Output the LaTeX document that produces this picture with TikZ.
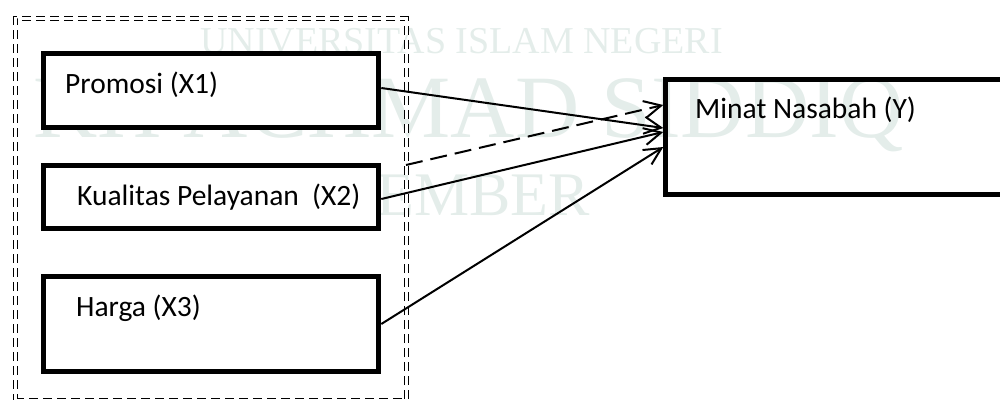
\documentclass[tikz,border=0pt]{standalone}
\usepackage{fontspec}
\setmainfont{Carlito}
\newfontfamily\wmfont{Liberation Serif}
\usetikzlibrary{arrows.meta}
\definecolor{wm}{RGB}{228,237,234}
\begin{document}
\begin{tikzpicture}[x=1pt,y=-1pt,
  box/.style={draw, line width=5pt, fill=white, inner sep=0pt, minimum width=335.6pt},
  lbl/.style={anchor=base west, inner sep=0pt, font=\fontsize{29.5}{34}\selectfont},
  conn/.style={line width=2pt, -{Straight Barb[length=17pt,width=17pt]}},
  wmtext/.style={anchor=base west, inner sep=0pt, text=wm}]
\useasboundingbox (0,0) rectangle (1000,399);
\clip (0,0) rectangle (1000,399);
% watermark
\node[wmtext, font=\wmfont\fontsize{38}{38}\selectfont] (w1) at (200,53) {UNIVERSITAS ISLAM NEGERI};
\node[wmtext, font=\wmfont\fontsize{89}{89}\selectfont] (w2) at (33,137) {KH ACHMAD SIDDIQ};
\node[wmtext, font=\wmfont\fontsize{62}{62}\selectfont] (w3) at (352,215) {JEMBER};
% group frame
\node[draw, double, double distance=3pt, line width=1pt, dash pattern=on 9pt off 5pt,
      minimum width=391pt, minimum height=382pt, inner sep=0pt, outer sep=0pt] (grp) at (210.5,209) {};
% boxes
\node[box, minimum height=74.3pt] (x1) at (211,90.4) {};
\node[box, minimum height=62.4pt] (x2) at (211,197) {};
\node[box, minimum height=95pt] (x3) at (211,324) {};
\node[box, fill=none, minimum width=344.2pt, minimum height=115pt] (y) at (837.9,136.7) {};
% labels
\node[lbl] (t1) at (65,93) {Promosi (X1)};
\node[lbl] (t2) at (77,205) {Kualitas Pelayanan\ \ (X2)};
\node[lbl] (t3) at (76,316) {Harga (X3)};
\node[lbl] (ty) at (695,118) {Minat Nasabah (Y)};
% connectors
\draw[conn] ([yshift=2.4pt]x1.east) -- ([yshift=8.7pt]y.west);
\draw[conn] ([yshift=-2pt]x2.east) -- ([yshift=4.7pt]y.west);
\draw[conn] (x3.east) -- ([yshift=-10.3pt]y.west);
\draw[conn, dash pattern=on 17pt off 8pt] ([yshift=44pt]grp.east) -- ([yshift=31.7pt]y.west);
\end{tikzpicture}
\end{document}
